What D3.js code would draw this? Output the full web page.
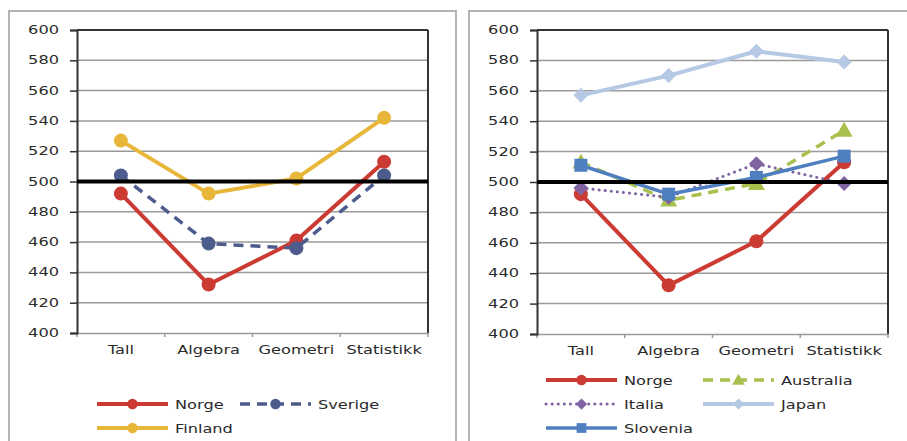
<!DOCTYPE html>
<html>
<head>
<meta charset="utf-8">
<script src="https://cdn.jsdelivr.net/npm/d3@7/dist/d3.min.js"></script>
<style>
  html, body { margin: 0; padding: 0; background: #fff; }
  svg { display: block; }
  text { font-family: "DejaVu Sans", sans-serif; font-size: 12px; fill: #2a2a2a; }
</style>
</head>
<body>
<svg id="chart" width="907" height="441"></svg>
<script>
// Subject areas and tick values
const categories = ["Tall", "Algebra", "Geometri", "Statistikk"];
const yTicks = [400, 420, 440, 460, 480, 500, 520, 540, 560, 580, 600];
const referenceScore = 500;

// Scores per country
const norge     = [492, 432, 461, 513];
const sverige   = [504, 459, 456, 504];
const finland   = [527, 492, 502, 542];
const australia = [513, 488, 499, 534];
const italia    = [496, 490, 512, 499];
const japan     = [557, 570, 586, 579];
const slovenia  = [511, 492, 503, 517];

const styles = {
  Norge:     { color: "#CB3A33", width: 4,   dash: null,   marker: "circle",   size: 7 },
  Sverige:   { color: "#4D5C8D", width: 3.5, dash: "10,7", marker: "circle",   size: 7 },
  Finland:   { color: "#E8B73A", width: 4,   dash: null,   marker: "circle",   size: 7 },
  Australia: { color: "#A8C04C", width: 3.5, dash: "10,7", marker: "triangle", size: 8.5 },
  Italia:    { color: "#8064A2", width: 3,   dash: "0.1,6",marker: "diamond",  size: 7.5 },
  Japan:     { color: "#B5C8E4", width: 4,   dash: null,   marker: "diamond",  size: 7.5 },
  Slovenia:  { color: "#4F7FC0", width: 3.5, dash: null,   marker: "square",   size: 6.5 }
};

const panels = [
  {
    frame: { x: 9, y: 11, w: 447 },
    plot: { left: 77, right: 428, top: 30, bottom: 333 },
    series: [["Norge", norge], ["Sverige", sverige], ["Finland", finland]],
    legend: [
      { name: "Norge",   x: 97,  y: 404 },
      { name: "Sverige", x: 240, y: 404 },
      { name: "Finland", x: 97,  y: 428 }
    ]
  },
  {
    frame: { x: 469, y: 11, w: 460 },
    plot: { left: 537, right: 888, top: 30, bottom: 334 },
    series: [["Norge", norge], ["Australia", australia], ["Italia", italia],
             ["Japan", japan], ["Slovenia", slovenia]],
    legend: [
      { name: "Norge",     x: 546, y: 380 },
      { name: "Australia", x: 703, y: 380 },
      { name: "Italia",    x: 546, y: 404 },
      { name: "Japan",     x: 703, y: 404 },
      { name: "Slovenia",  x: 546, y: 428 }
    ]
  }
];

const svg = d3.select("#chart");
const SX = 1.35; // horizontal stretch for all labels

function stretchedText(g, x, y, str, anchor) {
  return g.append("text")
    .attr("transform", `translate(${x},${y}) scale(${SX},1)`)
    .attr("text-anchor", anchor)
    .text(str);
}

function drawMarker(g, type, size, color, cx, cy) {
  if (type === "circle") {
    g.append("circle").attr("cx", cx).attr("cy", cy).attr("r", size).attr("fill", color);
  } else if (type === "square") {
    g.append("rect").attr("x", cx - size).attr("y", cy - size)
      .attr("width", size * 2).attr("height", size * 2).attr("fill", color);
  } else if (type === "diamond") {
    g.append("path").attr("d", `M${cx},${cy - size}L${cx + size},${cy}L${cx},${cy + size}L${cx - size},${cy}Z`)
      .attr("fill", color);
  } else if (type === "triangle") {
    g.append("path").attr("d", `M${cx},${cy - size}L${cx + size},${cy + size * 0.75}L${cx - size},${cy + size * 0.75}Z`)
      .attr("fill", color);
  }
}

panels.forEach(p => {
  const g = svg.append("g");
  // outer chart frame
  g.append("rect")
    .attr("x", p.frame.x).attr("y", p.frame.y)
    .attr("width", p.frame.w).attr("height", 460)
    .attr("fill", "#fff").attr("stroke", "#b4b4b4").attr("stroke-width", 2);

  const x = d3.scaleBand().domain(categories).range([p.plot.left, p.plot.right]).padding(0);
  const y = d3.scaleLinear().domain([400, 600]).range([p.plot.bottom, p.plot.top]);
  const cx = c => x(c) + x.bandwidth() / 2;

  // horizontal gridlines
  g.append("g").selectAll("line").data(yTicks.filter(t => t > 400)).join("line")
    .attr("x1", p.plot.left).attr("x2", p.plot.right)
    .attr("y1", d => y(d)).attr("y2", d => y(d))
    .attr("stroke", d => d === 600 ? "#333" : "#9a9a9a")
    .attr("stroke-width", d => d === 600 ? 2 : 1.5);

  // right border of plot area
  g.append("line")
    .attr("x1", p.plot.right).attr("x2", p.plot.right)
    .attr("y1", p.plot.top).attr("y2", p.plot.bottom)
    .attr("stroke", "#333").attr("stroke-width", 2);

  // x axis
  const xAxis = g.append("g")
    .attr("transform", `translate(0,${p.plot.bottom})`)
    .call(d3.axisBottom(x).tickSize(0).tickFormat(""));
  xAxis.select(".domain").attr("stroke", "#9a9a9a").attr("stroke-width", 1.5);
  const bounds = categories.map(c => x(c)).concat([p.plot.right]);
  g.append("g").selectAll("line").data(bounds).join("line")
    .attr("x1", d => d).attr("x2", d => d)
    .attr("y1", p.plot.bottom).attr("y2", p.plot.bottom + 4)
    .attr("stroke", "#9a9a9a").attr("stroke-width", 1.5);
  categories.forEach(c => stretchedText(g, cx(c), p.plot.bottom + 21, c, "middle"));

  // y axis
  const yAxis = g.append("g")
    .attr("transform", `translate(${p.plot.left},0)`)
    .call(d3.axisLeft(y).tickValues(yTicks).tickSize(7).tickFormat(""));
  yAxis.select(".domain").attr("stroke", "#333").attr("stroke-width", 2);
  yAxis.selectAll(".tick line").attr("stroke", "#333").attr("stroke-width", 1.5);
  yTicks.forEach(t => stretchedText(g, p.plot.left - 18, y(t) + 4, String(t), "end"));

  // series lines and markers
  const line = d3.line().x((d, i) => cx(categories[i])).y(d => y(d));
  p.series.forEach(([name, values]) => {
    const s = styles[name];
    const sg = g.append("g");
    sg.append("path").datum(values)
      .attr("d", line)
      .attr("fill", "none")
      .attr("stroke", s.color)
      .attr("stroke-width", s.width)
      .attr("stroke-linecap", s.dash && s.dash.startsWith("0.1") ? "round" : "butt")
      .attr("stroke-linejoin", "round")
      .attr("stroke-dasharray", s.dash);
    values.forEach((v, i) => drawMarker(sg, s.marker, s.size, s.color, cx(categories[i]), y(v)));
  });

  // reference line at the international mean
  g.append("line")
    .attr("x1", p.plot.left).attr("x2", p.plot.right)
    .attr("y1", y(referenceScore)).attr("y2", y(referenceScore))
    .attr("stroke", "#000").attr("stroke-width", 4);

  // legend
  p.legend.forEach(item => {
    const s = styles[item.name];
    const lg = g.append("g");
    lg.append("line")
      .attr("x1", item.x).attr("x2", item.x + 71)
      .attr("y1", item.y).attr("y2", item.y)
      .attr("stroke", s.color).attr("stroke-width", s.width)
      .attr("stroke-linecap", s.dash && s.dash.startsWith("0.1") ? "round" : "butt")
      .attr("stroke-dasharray", s.dash);
    drawMarker(lg, s.marker, s.size * 0.75, s.color, item.x + 35.5, item.y);
    stretchedText(lg, item.x + 78, item.y + 4.5, item.name, "start");
  });
});
</script>
</body>
</html>
